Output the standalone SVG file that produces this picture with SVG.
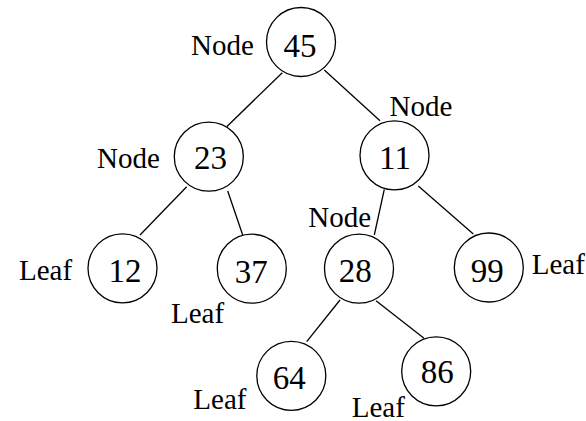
<svg xmlns="http://www.w3.org/2000/svg" width="586" height="421" viewBox="0 0 586 421">
<style>
circle{fill:#fff;stroke:#000;stroke-width:1.3}
line{stroke:#000;stroke-width:1.3}
text{fill:#000;font-family:'Liberation Serif','Times New Roman',Times,Tinos,'Nimbus Roman','Nimbus Roman No9 L','Noto Serif','DejaVu Serif',FreeSerif,serif}
.v{font-size:33px;text-anchor:middle}
.l{font-size:29px}
</style>
<rect width="586" height="421" fill="#fff"/>
<g id="connectors">
<line x1="282.3" y1="72.7" x2="226.7" y2="126.7"/>
<line x1="324.3" y1="70" x2="380" y2="120.7"/>
<line x1="186.7" y1="186.7" x2="140" y2="235"/>
<line x1="227.7" y1="191" x2="242.7" y2="235"/>
<line x1="384.3" y1="189.3" x2="374.3" y2="235"/>
<line x1="418.3" y1="186" x2="473.3" y2="234"/>
<line x1="340" y1="300" x2="306.7" y2="341.7"/>
<line x1="376" y1="300.7" x2="424" y2="338.3"/>
</g>
<g id="n45"><circle cx="301" cy="42" r="34.5"/><text class="v" x="300" y="57">45</text><text class="l" x="191" y="55">Node</text></g>
<g id="n23"><circle cx="208.8" cy="156.7" r="34.5"/><text class="v" x="210.5" y="169">23</text><text class="l" x="97" y="168">Node</text></g>
<g id="n11"><circle cx="394.5" cy="155.3" r="34.5"/><text class="v" x="395" y="169">11</text><text class="l" x="389.5" y="116">Node</text></g>
<g id="n12"><circle cx="122.5" cy="268.3" r="34.5"/><text class="v" x="125" y="281.7">12</text><text class="l" x="19" y="280">Leaf</text></g>
<g id="n37"><circle cx="251.8" cy="268.7" r="34.5"/><text class="v" x="251.3" y="283">37</text><text class="l" x="171" y="323.3">Leaf</text></g>
<g id="n28"><circle cx="359" cy="268.7" r="34.5"/><text class="v" x="355.2" y="281.7">28</text><text class="l" x="308.3" y="226.7">Node</text></g>
<g id="n99"><circle cx="488.8" cy="267.5" r="34.5"/><text class="v" x="487.2" y="281.7">99</text><text class="l" x="531.7" y="274.3">Leaf</text></g>
<g id="n64"><circle cx="291.3" cy="375.8" r="34.5"/><text class="v" x="289.3" y="389">64</text><text class="l" x="193.3" y="409.3">Leaf</text></g>
<g id="n86"><circle cx="436.2" cy="371.3" r="34.5"/><text class="v" x="437.2" y="383.3">86</text><text class="l" x="351.7" y="416.5">Leaf</text></g>
</svg>
